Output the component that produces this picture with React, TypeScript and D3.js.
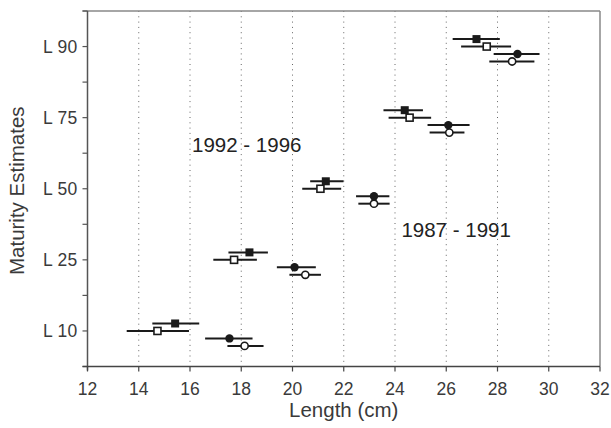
import React from "react";
import * as d3 from "d3";

const levels = ["L 10", "L 25", "L 50", "L 75", "L 90"];
const xTicks = [12, 14, 16, 18, 20, 22, 24, 26, 28, 30, 32];

// 1992-1996 (squares)
const sqFilledMean = [15.42, 18.32, 21.3, 24.38, 27.18];
const sqFilledLo = [14.53, 17.5, 20.69, 23.55, 26.25];
const sqFilledHi = [16.36, 19.04, 21.99, 25.09, 28.09];
const sqOpenMean = [14.73, 17.72, 21.09, 24.57, 27.58];
const sqOpenLo = [13.53, 16.91, 20.38, 23.75, 26.58];
const sqOpenHi = [15.96, 18.61, 21.9, 25.41, 28.53];
// 1987-1991 (circles)
const ciFilledMean = [17.54, 20.08, 23.18, 26.08, 28.78];
const ciFilledLo = [16.59, 19.39, 22.48, 25.27, 27.85];
const ciFilledHi = [18.44, 20.91, 23.78, 26.91, 29.64];
const ciOpenMean = [18.13, 20.5, 23.18, 26.12, 28.57];
const ciOpenLo = [17.46, 19.88, 22.57, 25.35, 27.68];
const ciOpenHi = [18.87, 21.11, 23.79, 26.71, 29.44];

const series = [
  { shape: "square", filled: true, mean: sqFilledMean, lo: sqFilledLo, hi: sqFilledHi, dy: 0.105 },
  { shape: "square", filled: false, mean: sqOpenMean, lo: sqOpenLo, hi: sqOpenHi, dy: 0 },
  { shape: "circle", filled: true, mean: ciFilledMean, lo: ciFilledLo, hi: ciFilledHi, dy: -0.105 },
  { shape: "circle", filled: false, mean: ciOpenMean, lo: ciOpenLo, hi: ciOpenHi, dy: -0.21 },
];

const labels = [
  { text: "1992 - 1996", x: 16.08, y: 3.52 },
  { text: "1987 - 1991", x: 24.25, y: 2.317 },
];

const W = 611;
const H = 428;
const left = 87.5;
const right = 600;
const top = 11;
const bottom = 366.5;
const FONT = "'Liberation Sans', Arial, sans-serif";
const TXT = "#3a3a3a";

export default function App() {
  const x = d3.scaleLinear().domain([12, 32]).range([left, right]);
  const y = d3.scaleLinear().domain([0.5, 5.5]).range([bottom, top]);
  const yTicks = d3.range(0.5, 5.51, 0.5);

  return (
    <svg
      width={W}
      height={H}
      style={{ position: "absolute", left: 0, top: 0, background: "#fff" }}
    >
      <rect x={0} y={0} width={W} height={H} fill="#fff" />
      {/* grid */}
      {xTicks.slice(1, -1).map((t) => (
        <line
          key={"g" + t}
          x1={x(t)}
          x2={x(t)}
          y1={top}
          y2={bottom}
          stroke="#666"
          strokeWidth={1}
          strokeDasharray="1,4.3"
        />
      ))}
      {/* frame */}
      <line x1={x(12) - 5} x2={right} y1={top} y2={top} stroke="#888" strokeWidth={1.5} />
      <line x1={right} x2={right} y1={top} y2={bottom} stroke="#888" strokeWidth={1.5} />
      {/* y axis */}
      <line x1={left} x2={left} y1={top} y2={bottom + 4} stroke="#555" strokeWidth={1.5} />
      {yTicks.map((t) => (
        <line key={"yt" + t} x1={left - 5} x2={left} y1={y(t)} y2={y(t)} stroke="#555" strokeWidth={1.2} />
      ))}
      {levels.map((l, i) => (
        <text
          key={l}
          x={left - 10}
          y={y(i + 1)}
          dy="0.36em"
          textAnchor="end"
          fontFamily={FONT}
          fontSize={17.5}
          fill={TXT}
          letterSpacing={0.3}
        >
          {l}
        </text>
      ))}
      {/* x axis */}
      <line x1={left - 5} x2={right} y1={bottom} y2={bottom} stroke="#444" strokeWidth={1.5} />
      {xTicks.map((t) => (
        <g key={"xt" + t}>
          <line x1={x(t)} x2={x(t)} y1={bottom} y2={bottom + 5} stroke="#444" strokeWidth={1.2} />
          <text
            x={x(t)}
            y={bottom + 28}
            textAnchor="middle"
            fontFamily={FONT}
            fontSize={17.5}
            fill={TXT}
          >
            {t}
          </text>
        </g>
      ))}
      {/* titles */}
      <text
        x={(left + right) / 2}
        y={417}
        textAnchor="middle"
        fontFamily={FONT}
        fontSize={20.5}
        fill={TXT}
      >
        Length (cm)
      </text>
      <text
        transform={`translate(24,${(top + bottom) / 2 + 2}) rotate(-90)`}
        textAnchor="middle"
        fontFamily={FONT}
        fontSize={20.5}
        fill={TXT}
      >
        Maturity Estimates
      </text>
      {/* annotations */}
      {labels.map((lb) => (
        <text
          key={lb.text}
          x={x(lb.x)}
          y={y(lb.y)}
          fontFamily={FONT}
          fontSize={20.5}
          fill="#222"
        >
          {lb.text}
        </text>
      ))}
      {/* error bars and markers */}
      {series.map((s, si) =>
        s.mean.map((m, i) => {
          const cy = y(i + 1 + s.dy);
          return (
            <g key={si + "-" + i}>
              <line
                x1={x(s.lo[i])}
                x2={x(s.hi[i])}
                y1={cy}
                y2={cy}
                stroke="#1a1a1a"
                strokeWidth={2}
              />
              {s.shape === "square" ? (
                s.filled ? (
                  <rect x={x(m) - 4} y={cy - 4} width={8} height={8} fill="#1a1a1a" />
                ) : (
                  <rect
                    x={x(m) - 3.5}
                    y={cy - 3.5}
                    width={7}
                    height={7}
                    fill="#fff"
                    stroke="#1a1a1a"
                    strokeWidth={1.6}
                  />
                )
              ) : s.filled ? (
                <circle cx={x(m)} cy={cy} r={4.2} fill="#1a1a1a" />
              ) : (
                <circle cx={x(m)} cy={cy} r={3.6} fill="#fff" stroke="#1a1a1a" strokeWidth={1.6} />
              )}
            </g>
          );
        })
      )}
    </svg>
  );
}
